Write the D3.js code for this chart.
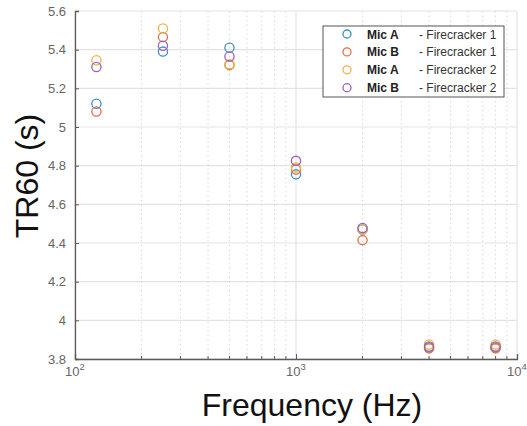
<!DOCTYPE html>
<html>
<head>
<meta charset="utf-8">
<script src="https://cdn.jsdelivr.net/npm/d3@7"></script>
<style>
  body { margin: 0; background: #fff; }
  svg { display: block; font-family: "Liberation Sans", Arial, sans-serif; }
</style>
</head>
<body>
<div id="chart"></div>
<script>
var frequencies = [125, 250, 500, 1000, 2000, 4000, 8000];
var micAFire1 = [5.12, 5.39, 5.41, 4.755, 4.47, 3.86, 3.86];
var micBFire1 = [5.08, 5.465, 5.32, 4.78, 4.415, 3.855, 3.855];
var micAFire2 = [5.345, 5.51, 5.325, 4.79, 4.47, 3.875, 3.875];
var micBFire2 = [5.31, 5.42, 5.365, 4.825, 4.478, 3.865, 3.865];
var micLabels = ["Mic A", "Mic B", "Mic A", "Mic B"];
var shotLabels = ["- Firecracker 1", "- Firecracker 1", "- Firecracker 2", "- Firecracker 2"];
var colors = ["#3d8fc9", "#e0714a", "#f0b34a", "#9a62b4"];
var yTicks = [3.8, 4, 4.2, 4.4, 4.6, 4.8, 5, 5.2, 5.4, 5.6];
var xTicks = [100, 1000, 10000];
var xMinor = [200, 300, 400, 500, 600, 700, 800, 900, 2000, 3000, 4000, 5000, 6000, 7000, 8000, 9000];

var series = [micAFire1, micBFire1, micAFire2, micBFire2];

var width = 527, height = 426;
var plotLeft = 75, plotRight = 517, plotTop = 11, plotBottom = 359;

var svg = d3.select("#chart").append("svg").attr("width", width).attr("height", height);

var x = d3.scaleLog().domain([100, 10000]).range([plotLeft, plotRight]);
var y = d3.scaleLinear().domain([3.8, 5.6]).range([plotBottom, plotTop]);

// grid
var grid = svg.append("g");
grid.selectAll(".hg").data(yTicks).enter().append("line")
  .attr("x1", plotLeft).attr("x2", plotRight)
  .attr("y1", function (d) { return y(d); }).attr("y2", function (d) { return y(d); })
  .attr("stroke", "#e3e3e3").attr("stroke-width", 1.2);
grid.selectAll(".vm").data(xMinor).enter().append("line")
  .attr("x1", function (d) { return x(d); }).attr("x2", function (d) { return x(d); })
  .attr("y1", plotTop).attr("y2", plotBottom)
  .attr("stroke", "#d8d8d8").attr("stroke-width", 1).attr("stroke-dasharray", "1.5,3");
grid.selectAll(".vg").data(xTicks).enter().append("line")
  .attr("x1", function (d) { return x(d); }).attr("x2", function (d) { return x(d); })
  .attr("y1", plotTop).attr("y2", plotBottom)
  .attr("stroke", "#e3e3e3").attr("stroke-width", 1.2);

// axes
var yAxis = d3.axisLeft(y).tickValues(yTicks).tickSize(-4).tickPadding(9)
  .tickFormat(function (d) { return d3.format("~g")(d); });
svg.append("g").attr("transform", "translate(" + plotLeft + ",0)").call(yAxis)
  .call(function (g) {
    g.select(".domain").attr("stroke", "#5a5a5a").attr("stroke-width", 1.3);
    g.selectAll(".tick line").attr("stroke", "#5a5a5a");
    g.selectAll("text").attr("fill", "#666").attr("font-size", 13).attr("font-family", "Liberation Sans, Arial, sans-serif");
  });

var xAxis = d3.axisBottom(x).tickValues(xTicks).tickSize(-5).tickFormat("");
svg.append("g").attr("transform", "translate(0," + plotBottom + ")").call(xAxis)
  .call(function (g) {
    g.select(".domain").attr("stroke", "#5a5a5a").attr("stroke-width", 1.3);
    g.selectAll(".tick line").attr("stroke", "#5a5a5a");
  });
svg.append("g").selectAll("line").data(xMinor).enter().append("line")
  .attr("x1", function (d) { return x(d); }).attr("x2", function (d) { return x(d); })
  .attr("y1", plotBottom).attr("y2", plotBottom - 3)
  .attr("stroke", "#5a5a5a");

var xl = svg.append("g").selectAll("text").data(xTicks).enter().append("text")
  .attr("x", function (d) { return x(d); }).attr("y", 376)
  .attr("text-anchor", "middle").attr("fill", "#666").attr("font-size", 13);
xl.append("tspan").text("10");
xl.append("tspan").attr("dy", -6).attr("font-size", 9.5)
  .text(function (d) { return Math.round(Math.log10(d)); });

// points
series.forEach(function (vals, i) {
  svg.append("g").selectAll("circle").data(vals).enter().append("circle")
    .attr("cx", function (d, j) { return x(frequencies[j]); })
    .attr("cy", function (d) { return y(d); })
    .attr("r", 4.6)
    .attr("fill", "none").attr("stroke", colors[i]).attr("stroke-width", 1.3);
});

// legend
var lg = svg.append("g");
lg.append("rect").attr("x", 323).attr("y", 26).attr("width", 181).attr("height", 71)
  .attr("fill", "#fff").attr("stroke", "#555").attr("stroke-width", 1);
var rows = lg.selectAll(".row").data(micLabels).enter().append("g")
  .attr("transform", function (d, i) { return "translate(0," + (34 + i * 17.9) + ")"; });
rows.append("circle").attr("cx", 347).attr("cy", 0).attr("r", 4)
  .attr("fill", "none").attr("stroke", function (d, i) { return colors[i]; }).attr("stroke-width", 1.3);
rows.append("text").attr("x", 367).attr("y", 4.5).attr("font-size", 12).attr("font-weight", "bold")
  .attr("fill", "#222").text(function (d) { return d; });
rows.append("text").attr("x", 419).attr("y", 4.5).attr("font-size", 12)
  .attr("fill", "#333").text(function (d, i) { return shotLabels[i]; });

// titles
svg.append("text").attr("x", 312).attr("y", 416).attr("text-anchor", "middle")
  .attr("font-size", 32).attr("fill", "#111").text("Frequency (Hz)");
svg.append("text").attr("transform", "translate(38,176) rotate(-90)").attr("text-anchor", "middle")
  .attr("font-size", 32).attr("fill", "#111").text("TR60 (s)");
</script>
</body>
</html>
